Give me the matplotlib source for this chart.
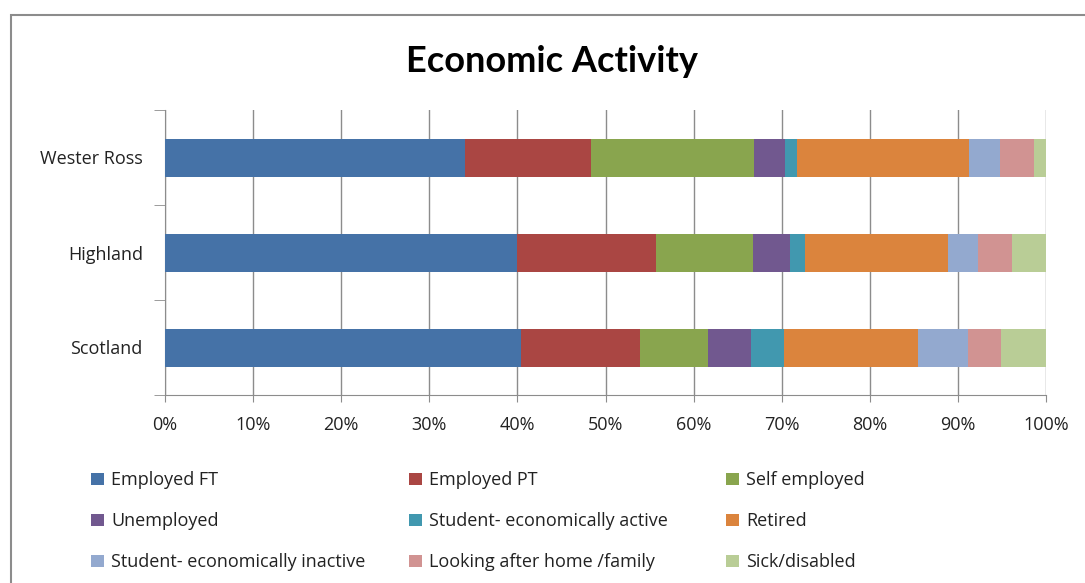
import numpy as np
import matplotlib.pyplot as plt
from matplotlib.patches import Rectangle, Patch

# share of each area's population by economic activity (%)
areas = ["Scotland", "Highland", "Wester Ross"]
categories = ["Employed FT", "Employed PT", "Self employed", "Unemployed",
              "Student- economically active", "Retired",
              "Student- economically inactive", "Looking after home /family",
              "Sick/disabled"]
scotland = [40.4, 13.5, 7.7, 4.9, 3.8, 15.2, 5.6, 3.8, 5.1]
highland = [39.9, 15.8, 11.0, 4.2, 1.7, 16.3, 3.4, 3.8, 3.9]
wester_ross = [34.1, 14.2, 18.6, 3.5, 1.3, 19.6, 3.5, 3.8, 1.4]
colors = ["#4572A7", "#AA4643", "#89A54E", "#71588F", "#4198AF",
          "#DB843D", "#93A9CF", "#D19392", "#B9CD96"]

data = np.array([scotland, highland, wester_ross])

plt.rcParams['font.family'] = ['Open Sans', 'DejaVu Sans']
fs = 13

fig = plt.figure(figsize=(10.85, 5.83), dpi=100)
# chart frame
fig.patches.append(Rectangle((11 / 1085, -0.1), 1.2, 1.1 - 15 / 583, transform=fig.transFigure,
                             fill=False, edgecolor="#8c8c8c", linewidth=1.5))

ax = fig.add_axes([165 / 1085, 188 / 583, 881 / 1085, 285 / 583])
y = np.arange(len(areas))
left = np.zeros(len(areas))
for j, cat in enumerate(categories):
    ax.barh(y, data[:, j], left=left, height=0.4, color=colors[j], label=cat, zorder=3)
    left += data[:, j]

ax.set_xlim(0, 100)
ax.set_ylim(-0.5, 2.5)
ax.set_xticks(np.arange(0, 101, 10))
ax.set_xticklabels([f"{v}%" for v in range(0, 101, 10)], fontsize=fs, color="#222222")
ax.set_yticks(y)
ax.set_yticklabels(areas, fontsize=fs, color="#222222")
ax.set_yticks([-0.5, 0.5, 1.5, 2.5], minor=True)
ax.tick_params(axis='y', which='major', length=0, pad=16)
ax.tick_params(axis='y', which='minor', length=8, color="#8c8c8c")
ax.tick_params(axis='x', length=5, color="#8c8c8c", pad=10)
ax.grid(axis='x', color="#8c8c8c", linewidth=1, zorder=0)
for s in ["top", "right"]:
    ax.spines[s].set_visible(False)
for s in ["left", "bottom"]:
    ax.spines[s].set_color("#8c8c8c")

fig.text(552 / 1085, 1 - 61 / 583, "Economic Activity", ha="center", va="center",
         fontsize=26, fontweight="bold", family=["Lato", "DejaVu Sans"])

# legend laid out in three columns, filled row by row
col_x = [84, 402, 719]
for c in range(3):
    items = [3 * r + c for r in range(3)]
    handles = [Patch(facecolor=colors[i]) for i in items]
    fig.legend(handles, [categories[i] for i in items], loc="upper left",
               bbox_to_anchor=(col_x[c] / 1085, 1 - 464 / 583), frameon=False,
               fontsize=fs, handlelength=0.7, handleheight=0.7, handletextpad=0.4,
               labelspacing=1.28, borderaxespad=0, labelcolor="#222222")

fig.savefig("out.png", dpi=100)
